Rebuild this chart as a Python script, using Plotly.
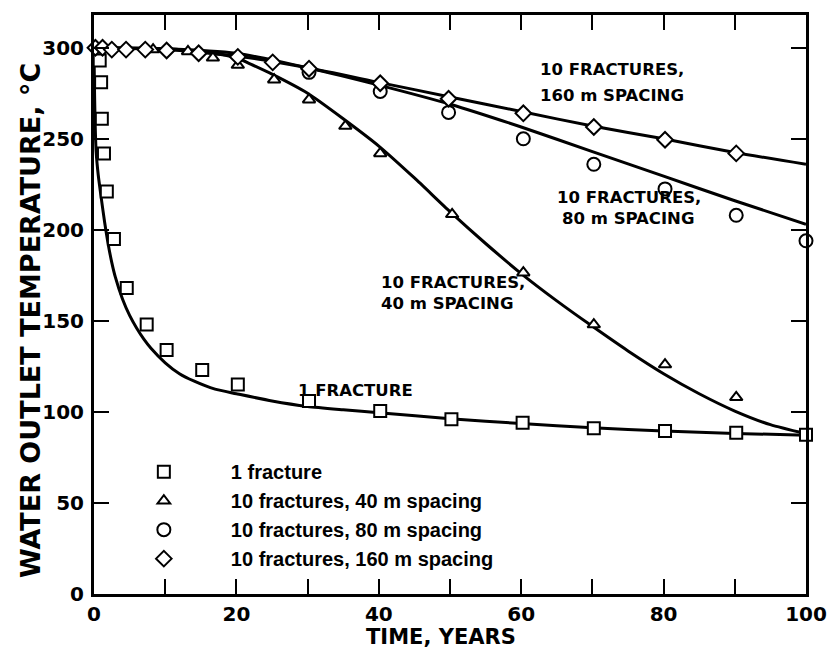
import plotly.graph_objects as go

# ---------------- data ----------------
# measured points
sq_x = [0.8, 1.0, 1.1, 1.4, 1.8, 2.8, 4.6, 7.4, 10.2, 15.2, 20.2, 30.2, 40.2, 50.2, 60.2, 70.2, 80.2, 90.2, 100]
sq_y = [293, 281, 261, 242, 221, 195, 168, 148, 134, 123, 115, 106, 100.5, 96, 94, 91, 89.5, 88.5, 87.5]

tri_x = [8.3, 13.2, 16.7, 20.2, 25.3, 30.2, 35.3, 40.2, 50.3, 60.3, 70.2, 80.2, 90.2, 100.1]
tri_y = [299, 298, 294.5, 290.5, 282.5, 271.5, 257, 242, 208.5, 176.5, 148, 126, 108, 95]

circ_x = [30.2, 40.2, 49.8, 60.3, 70.2, 80.2, 90.2, 100]
circ_y = [286.5, 276, 264.5, 250, 236, 222.5, 208, 194]

dia_x = [0.2, 1.2, 2.5, 4.5, 7.2, 10.2, 14.7, 20.2, 25.1, 30.2, 40.2, 49.8, 60.3, 70.2, 80.2, 90.2, 100.1]
dia_y = [300, 300, 299, 299, 299, 298.5, 297, 295, 292, 288.5, 280.5, 272, 264, 256.5, 249.5, 242, 235.5]

# model curves
c1_x = [0, 0.05, 0.15, 0.3, 0.6, 1.0, 1.5, 2.0, 2.5, 3.0, 4.0, 5.0, 6.0, 7.0, 8.0, 10, 12, 14, 17, 20,
        25, 30, 35, 40, 50, 60, 70, 80, 90, 100]
c1_y = [300, 282, 260, 243, 230, 218, 204, 192, 182, 174, 162, 153, 146, 140, 135, 127, 121, 117, 112.5, 110,
        106, 103, 101.2, 99.6, 96.3, 93.6, 91.3, 89.5, 88.2, 87.2]

c40_x = [0, 10, 15, 20, 22, 25, 30, 35, 40, 45, 50, 55, 60, 65, 70, 75, 80, 85, 90, 95, 100]
c40_y = [300, 299.5, 298, 294.5, 291, 285.5, 275, 261, 246, 228.5, 210, 192.5, 176, 161, 147, 133.5, 121, 110, 100.5, 93, 88]

c80_x = [0, 10, 20, 30, 40, 50, 60, 70, 80, 90, 100]
c80_y = [300, 299.5, 297, 289, 279.5, 269, 256.5, 243, 229.5, 216, 203]

c160_x = [0, 10, 20, 30, 40, 50, 60, 70, 80, 90, 100]
c160_y = [300, 299, 295.5, 289, 281, 273, 265, 257, 250, 242.5, 236]

legend_names = ["1 fracture", "10 fractures, 40 m spacing",
                "10 fractures, 80 m spacing", "10 fractures, 160 m spacing"]

x_tickvals = [0, 10, 20, 30, 40, 50, 60, 70, 80, 90, 100]
x_ticktext = ["0", "", "20", "", "40", "", "60", "", "80", "", "100"]
y_tickvals = [0, 50, 100, 150, 200, 250, 300]
y_ticktext = ["0", "50", "100", "150", "200", "250", "300"]

# curve labels: (text, x, y) in data units
curve_labels = [
    ("10 FRACTURES,", 62.3, 287.8),
    ("160 m SPACING", 62.3, 274.0),
    ("10 FRACTURES,", 64.8, 218.0),
    ("80 m SPACING", 65.5, 206.5),
    ("10 FRACTURES,", 40.0, 171.3),
    ("40 m SPACING", 40.0, 159.8),
    ("1 FRACTURE", 28.3, 112.0),
]

x_title = "TIME, YEARS"
y_title = "WATER OUTLET TEMPERATURE, \u00b0C"

# ---------------- figure ----------------
fig = go.Figure()

for cx, cy in [(c1_x, c1_y), (c40_x, c40_y), (c80_x, c80_y), (c160_x, c160_y)]:
    fig.add_trace(go.Scatter(
        x=cx, y=cy, mode="lines", showlegend=False, hoverinfo="skip",
        line=dict(color="black", width=3, shape="spline", smoothing=0.6),
        cliponaxis=False))

marker_sets = [
    (sq_x, sq_y, "square", 12),
    (tri_x, tri_y, "triangle-up", 11),
    (circ_x, circ_y, "circle", 13),
    (dia_x, dia_y, "diamond", 12),
]
for (mx, my, sym, sz), name in zip(marker_sets, legend_names):
    fig.add_trace(go.Scatter(
        x=mx, y=my, mode="markers", name=name, cliponaxis=False,
        marker=dict(symbol=sym, size=sz, color="white",
                    line=dict(color="black", width=2))))

label_font = dict(family="DejaVu Sans", size=16.5, color="black", weight="bold")
for txt, lx, ly in curve_labels:
    fig.add_annotation(x=lx, y=ly, text=txt, showarrow=False,
                       xanchor="left", yanchor="middle", font=label_font)

fig.add_annotation(xref="paper", yref="paper", x=0.487, y=-0.074,
                   text=x_title, showarrow=False, xanchor="center", yanchor="middle",
                   font=dict(family="DejaVu Sans", size=21, color="black", weight="bold"))
fig.add_annotation(xref="paper", yref="paper", x=-0.09, y=0.473,
                   text=y_title, showarrow=False, textangle=-90,
                   xanchor="center", yanchor="middle",
                   font=dict(family="DejaVu Sans", size=27, color="black", weight="bold"))

axis_common = dict(
    showline=True, linewidth=3, linecolor="black", mirror="ticks",
    ticks="inside", ticklen=15, tickwidth=2, tickcolor="black",
    showgrid=False, zeroline=False, automargin=False,
    tickfont=dict(family="DejaVu Sans", size=20, color="black", weight="bold"),
)

fig.update_xaxes(range=[0, 100], tickmode="array", tickvals=x_tickvals,
                 ticktext=x_ticktext, ticklabelstandoff=0, **axis_common)
fig.update_yaxes(range=[0, 318], tickmode="array", tickvals=y_tickvals,
                 ticktext=y_ticktext, ticklabelstandoff=3, **axis_common)

fig.update_layout(
    autosize=True,
    margin=dict(l=94, r=22, t=15, b=59),
    paper_bgcolor="white", plot_bgcolor="white",
    showlegend=True,
    legend=dict(x=0.004, y=0.245, xanchor="left", yanchor="top",
                bgcolor="rgba(0,0,0,0)", itemwidth=124, tracegroupgap=0,
                font=dict(family="Liberation Sans", size=20, color="black", weight="bold")),
)

fig.write_html("out.html", config={"responsive": True})
